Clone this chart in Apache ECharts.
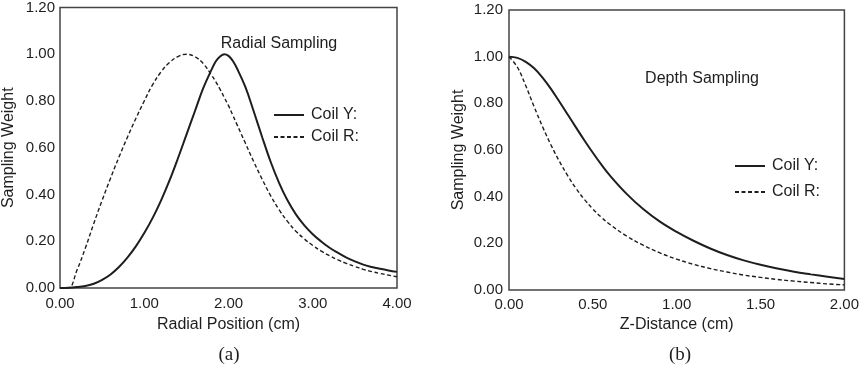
<!DOCTYPE html>
<html>
<head>
<meta charset="utf-8">
<title>Radial and Depth Sampling</title>
<script src="https://cdn.jsdelivr.net/npm/echarts@6/dist/echarts.min.js"></script>
<style>
  html, body { margin: 0; padding: 0; background: #fff; }
  #chart { width: 862px; height: 366px; }
</style>
</head>
<body>
<div id="chart"></div>
<script>
// (a) radial sampling
const radialX = [0, 0.1, 0.2, 0.3, 0.4, 0.5, 0.6, 0.7, 0.8, 0.9, 1.0, 1.1, 1.2, 1.3, 1.4, 1.5, 1.6, 1.7, 1.8, 1.85, 1.9, 1.95, 2.0, 2.05, 2.1, 2.2, 2.3, 2.4, 2.5, 2.6, 2.7, 2.8, 2.9, 3.0, 3.1, 3.2, 3.3, 3.4, 3.5, 3.6, 3.7, 3.8, 3.9, 4.0];
const radialCoilY = [0, 0.001, 0.004, 0.009, 0.018, 0.035, 0.058, 0.09, 0.13, 0.178, 0.235, 0.3, 0.375, 0.46, 0.555, 0.655, 0.755, 0.855, 0.935, 0.97, 0.99, 1.0, 0.993, 0.972, 0.94, 0.86, 0.755, 0.645, 0.54, 0.45, 0.375, 0.315, 0.268, 0.23, 0.199, 0.172, 0.15, 0.13, 0.114, 0.1, 0.09, 0.082, 0.075, 0.069];
const radialCoilR = [0, 0, 0.075, 0.17, 0.275, 0.375, 0.47, 0.56, 0.645, 0.725, 0.8, 0.87, 0.925, 0.965, 0.99, 1.0, 0.99, 0.96, 0.91, 0.882, 0.85, 0.815, 0.78, 0.74, 0.7, 0.62, 0.54, 0.465, 0.395, 0.335, 0.285, 0.243, 0.21, 0.182, 0.158, 0.138, 0.12, 0.105, 0.092, 0.08, 0.07, 0.062, 0.055, 0.048];

// (b) depth sampling
const depthX = [0, 0.05, 0.1, 0.15, 0.2, 0.25, 0.3, 0.35, 0.4, 0.45, 0.5, 0.55, 0.6, 0.7, 0.8, 0.9, 1.0, 1.1, 1.2, 1.3, 1.4, 1.5, 1.6, 1.7, 1.8, 1.9, 2.0];
const depthCoilY = [1.0, 0.995, 0.978, 0.95, 0.91, 0.862, 0.808, 0.752, 0.696, 0.641, 0.588, 0.538, 0.492, 0.413, 0.347, 0.293, 0.249, 0.211, 0.178, 0.15, 0.127, 0.108, 0.092, 0.078, 0.067, 0.057, 0.047];
const depthCoilR = [1.0, 0.955, 0.875, 0.785, 0.7, 0.622, 0.552, 0.49, 0.435, 0.388, 0.347, 0.312, 0.282, 0.232, 0.192, 0.159, 0.132, 0.11, 0.092, 0.077, 0.064, 0.054, 0.045, 0.038, 0.032, 0.026, 0.022];

const seriesNames = ["Coil Y:", "Coil R:"];

const FONT = "'Liberation Sans', Arial, Helvetica, sans-serif";
const INK = "#1e1e1e";

function pairs(xs, ys) {
  return xs.map((x, i) => [x, ys[i]]);
}

function valueAxis(gridIndex, max, interval, name, gap, labelMargin) {
  return {
    type: "value",
    gridIndex: gridIndex,
    min: 0,
    max: max,
    interval: interval,
    name: name,
    nameLocation: "middle",
    nameGap: gap,
    nameTextStyle: { fontFamily: FONT, fontSize: 16, color: INK },
    axisLine: { show: false },
    axisTick: { show: false },
    splitLine: { show: false },
    axisLabel: {
      margin: labelMargin,
      fontFamily: FONT,
      fontSize: 15,
      color: INK,
      formatter: (v) => v.toFixed(2),
    },
  };
}

function curve(name, idx, data, dashed) {
  return {
    name: name,
    type: "line",
    xAxisIndex: idx,
    yAxisIndex: idx,
    data: data,
    smooth: 0.4,
    symbol: "none",
    silent: true,
    lineStyle: {
      color: INK,
      width: dashed ? 1.4 : 2,
      type: dashed ? [4, 2.5] : "solid",
    },
    itemStyle: { color: INK },
  };
}

function legendAt(left, top, gap) {
  return {
    data: seriesNames,
    orient: "vertical",
    left: left,
    top: top,
    padding: 0,
    itemGap: gap,
    itemWidth: 30,
    itemHeight: 14,
    // only the line sample, no marker
    itemStyle: { color: "rgba(0,0,0,0)", borderWidth: 0, opacity: 0 },
    textStyle: { fontFamily: FONT, fontSize: 16, color: INK, padding: [0, 0, 0, 2] },
    selectedMode: false,
  };
}

const serif = "'Liberation Serif', 'Times New Roman', serif";

const chart = echarts.init(document.getElementById("chart"), null, { renderer: "canvas" });

const option = {
  backgroundColor: "#fff",
  animation: false,
  title: [
    { text: "Radial Sampling", left: 274, top: 31, textAlign: "center",
      textStyle: { fontFamily: FONT, fontSize: 16, fontWeight: "normal", color: INK } },
    { text: "Depth Sampling", left: 697, top: 66, textAlign: "center",
      textStyle: { fontFamily: FONT, fontSize: 16, fontWeight: "normal", color: INK } },
    { text: "(a)", left: 224, top: 341, textAlign: "center",
      textStyle: { fontFamily: serif, fontSize: 19, fontWeight: "normal", color: INK } },
    { text: "(b)", left: 675, top: 341, textAlign: "center",
      textStyle: { fontFamily: serif, fontSize: 19, fontWeight: "normal", color: INK } },
  ],
  legend: [legendAt(273, 107, 6), legendAt(734, 158, 10)],
  grid: [
    { left: 60, top: 7, width: 337, height: 281, show: true, borderColor: "#444", borderWidth: 1.5 },
    { left: 509, top: 10, width: 338, height: 280, show: true, borderColor: "#444", borderWidth: 1.5 },
  ],
  xAxis: [
    valueAxis(0, 4, 1, "Radial Position (cm)", 29, 8),
    valueAxis(1, 2, 0.5, "Z-Distance (cm)", 27, 7),
  ],
  yAxis: [
    valueAxis(0, 1.2, 0.2, "Sampling Weight", 43, 5),
    valueAxis(1, 1.2, 0.2, "Sampling Weight", 42, 6),
  ],
  series: [
    curve(seriesNames[0], 0, pairs(radialX, radialCoilY), false),
    curve(seriesNames[1], 0, pairs(radialX, radialCoilR), true),
    curve(seriesNames[0], 1, pairs(depthX, depthCoilY), false),
    curve(seriesNames[1], 1, pairs(depthX, depthCoilR), true),
  ],
};

chart.setOption(option);
</script>
</body>
</html>
